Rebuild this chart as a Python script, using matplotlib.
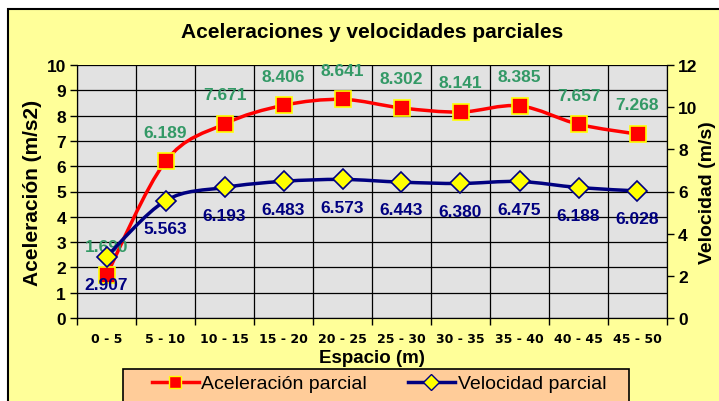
import numpy as np
import matplotlib.pyplot as plt
from matplotlib.path import Path
from matplotlib.patches import PathPatch, Rectangle
from matplotlib.lines import Line2D

plt.rcParams['font.family'] = ['Liberation Sans', 'DejaVu Sans']

# Datos
tramos = ['0 - 5', '5 - 10', '10 - 15', '15 - 20', '20 - 25',
          '25 - 30', '30 - 35', '35 - 40', '40 - 45', '45 - 50']
aceleracion = [1.690, 6.189, 7.671, 8.406, 8.641, 8.302, 8.141, 8.385, 7.657, 7.268]
velocidad = [2.907, 5.563, 6.193, 6.483, 6.573, 6.443, 6.380, 6.475, 6.188, 6.028]

AMARILLO = '#FFFF99'
GRIS = '#E2E2E2'
ROJO = '#FF0000'
AZUL = '#000080'
VERDE = '#339966'


def curva_suave(x, y):
    # Línea suavizada tipo Excel (Bezier a partir de Catmull-Rom)
    pts = np.column_stack([x, y]).astype(float)
    n = len(pts)
    verts = [pts[0]]
    codes = [Path.MOVETO]
    for i in range(n - 1):
        p0 = pts[i - 1] if i > 0 else pts[i]
        p1 = pts[i]
        p2 = pts[i + 1]
        p3 = pts[i + 2] if i + 2 < n else pts[i + 1]
        c1 = p1 + (p2 - p0) / 6.0
        c2 = p2 - (p3 - p1) / 6.0
        verts += [c1, c2, p2]
        codes += [Path.CURVE4] * 3
    return Path(verts, codes)


fig = plt.figure(figsize=(7.19, 4.02), dpi=100)
fig.patch.set_facecolor('white')

# Marco amarillo del gráfico
fondo = Rectangle((8 / 719, -0.1), 1.0, (402 - 10) / 402 + 0.1,
                  transform=fig.transFigure, facecolor=AMARILLO,
                  edgecolor='black', linewidth=1.5, zorder=-10)
fig.patches.append(fondo)

# Caja de la leyenda
caja = Rectangle((123 / 719, -0.1), 506 / 719, (402 - 370) / 402 + 0.1,
                 transform=fig.transFigure, facecolor='#FFCC99',
                 edgecolor='black', linewidth=1.2, zorder=-5)
fig.patches.append(caja)

ax = fig.add_axes([77 / 719, 1 - 319 / 402, 590 / 719, 253 / 402])
ax.set_facecolor(GRIS)
ax2 = ax.twinx()

x = np.arange(len(tramos))

ax.add_patch(PathPatch(curva_suave(x, aceleracion), facecolor='none',
                       edgecolor=ROJO, linewidth=2.5, zorder=3))
ax.plot(x, aceleracion, linestyle='none', marker='s', markersize=11,
        markerfacecolor=ROJO, markeredgecolor='#FFFF00', markeredgewidth=1.2, zorder=4)

ax2.add_patch(PathPatch(curva_suave(x, velocidad), facecolor='none',
                        edgecolor=AZUL, linewidth=2.5, zorder=3))
ax2.plot(x, velocidad, linestyle='none', marker='D', markersize=10,
         markerfacecolor='#FFFF00', markeredgecolor=AZUL, markeredgewidth=1.2, zorder=4)

for xi, v in zip(x, aceleracion):
    ax.annotate(f'{v:.3f}', (xi, v), xytext=(0, 21), textcoords='offset points',
                ha='center', va='center', color=VERDE, fontsize=12.5, fontweight='bold',
                zorder=6)
for xi, v in zip(x, velocidad):
    ax2.annotate(f'{v:.3f}', (xi, v), xytext=(0, -20), textcoords='offset points',
                 ha='center', va='center', color=AZUL, fontsize=12.5, fontweight='bold',
                 zorder=6)

ax.set_xlim(-0.5, len(tramos) - 0.5)
ax.set_ylim(0, 10)
ax2.set_ylim(0, 12)

ax.set_yticks(np.arange(0, 11, 1))
ax2.set_yticks(np.arange(0, 13, 2))
ax.set_xticks(np.arange(-0.5, len(tramos), 1))
ax.set_xticklabels([])
ax.set_xticks(x, minor=True)
ax.set_xticklabels(tramos, minor=True, fontsize=9, fontweight='bold',
                   family='DejaVu Sans')
ax.tick_params(axis='x', which='minor', length=0, pad=10)
ax.tick_params(axis='x', which='major', length=5, width=1, direction='out')
ax.tick_params(axis='y', length=5, width=1, labelsize=12.5, pad=3)
ax2.tick_params(axis='y', length=5, width=1, labelsize=12.5, pad=3)
for lab in ax.get_yticklabels() + ax2.get_yticklabels():
    lab.set_fontweight('bold')

ax.grid(True, which='major', color='black', linewidth=0.9, linestyle='-')
ax.set_axisbelow(True)
for sp in ax.spines.values():
    sp.set_color('black')
ax.spines['top'].set_visible(False)
ax2.spines['top'].set_visible(False)

ax.set_ylabel('Aceleración (m/s2)', fontsize=15, fontweight='bold', labelpad=3)
ax2.set_ylabel('Velocidad (m/s)', fontsize=14, fontweight='bold', labelpad=1)
ax.set_xlabel('Espacio (m)', fontsize=13.5, fontweight='bold', labelpad=3)

fig.text(0.518, 1 - 32 / 402, 'Aceleraciones y velocidades parciales',
         ha='center', va='center', fontsize=15, fontweight='bold')

h1 = Line2D([], [], color=ROJO, linewidth=2.5, marker='s', markersize=8,
            markerfacecolor=ROJO, markeredgecolor='#FFFF00')
h2 = Line2D([], [], color=AZUL, linewidth=2.5, marker='D', markersize=8,
            markerfacecolor='#FFFF00', markeredgecolor=AZUL)
leg = fig.legend([h1, h2], ['Aceleración parcial', 'Velocidad parcial'],
                 loc='upper left',
                 bbox_to_anchor=(146 / 719, 1 - 400 / 402, 466 / 719, 30 / 402),
                 mode='expand', ncol=2, fontsize=14, frameon=False,
                 handlelength=2.4, handletextpad=0.15, columnspacing=2.4,
                 borderpad=0.3, borderaxespad=0)

fig.savefig('out.png', dpi=100)
